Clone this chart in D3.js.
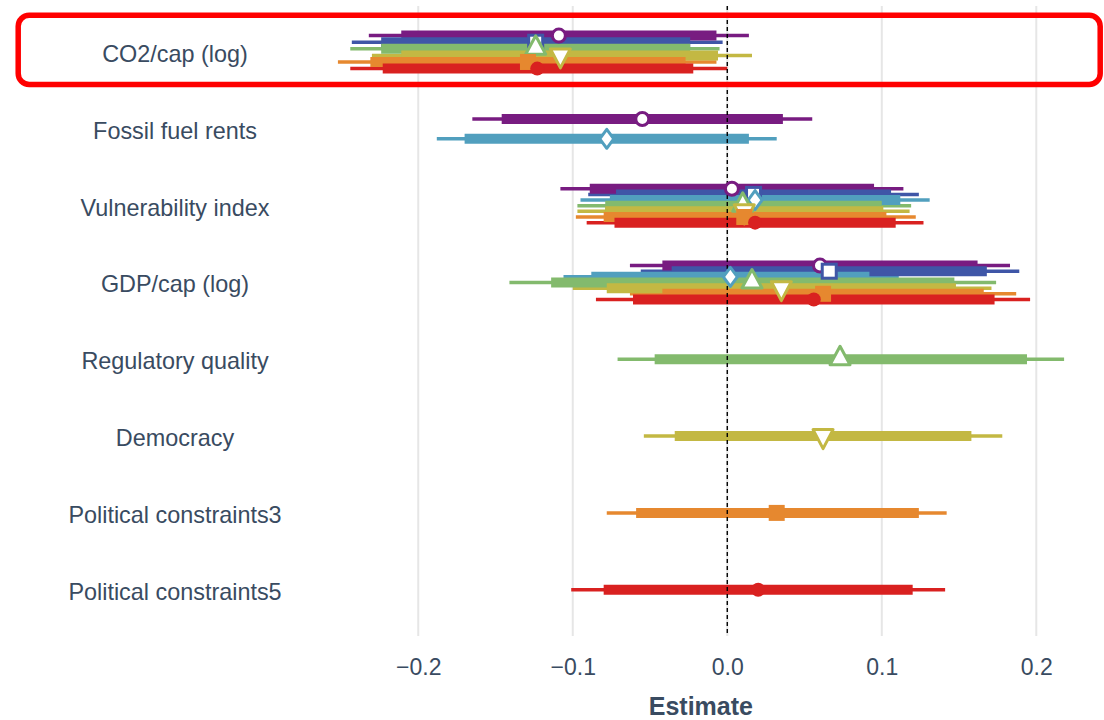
<!DOCTYPE html>
<html>
<head>
<meta charset="utf-8">
<script src="https://cdn.jsdelivr.net/npm/d3@7"></script>
<style>
  html, body { margin: 0; padding: 0; background: #ffffff; }
  svg { display: block; }
  text { font-family: "Liberation Sans", Arial, Helvetica, sans-serif; }
</style>
</head>
<body>
<svg id="chart" width="1104" height="720"></svg>
<script>
// ---------- data ----------
const variables = ["CO2/cap (log)", "Fossil fuel rents", "Vulnerability index", "GDP/cap (log)",
  "Regulatory quality", "Democracy", "Political constraints3", "Political constraints5"];
const models = ["Model 1", "Model 2", "Model 3", "Model 4", "Model 5", "Model 6", "Model 7"];

// rows = models, columns = variables (null = not in model)
const estimate = [
  [-0.109, -0.055, 0.003, 0.060, null, null, null, null],
  [-0.124, null, 0.017, 0.066, null, null, null, null],
  [null, -0.078, 0.018, 0.002, null, null, null, null],
  [-0.124, null, 0.010, 0.016, 0.073, null, null, null],
  [-0.108, null, 0.011, 0.035, null, 0.062, null, null],
  [-0.129, null, 0.011, 0.062, null, null, 0.032, null],
  [-0.123, null, 0.018, 0.056, null, null, null, 0.020]
];
const low95 = [
  [-0.232, -0.165, -0.108, -0.063, null, null, null, null],
  [-0.243, null, -0.090, -0.056, null, null, null, null],
  [null, -0.188, -0.095, -0.106, null, null, null, null],
  [-0.244, null, -0.097, -0.141, -0.071, null, null, null],
  [-0.230, null, -0.097, -0.100, null, -0.054, null, null],
  [-0.252, null, -0.098, -0.063, null, null, -0.078, null],
  [-0.244, null, -0.091, -0.085, null, null, null, -0.101]
];
const high95 = [
  [0.014, 0.055, 0.114, 0.183, null, null, null, null],
  [-0.003, null, 0.124, 0.189, null, null, null, null],
  [null, 0.032, 0.131, 0.111, null, null, null, null],
  [-0.005, null, 0.119, 0.174, 0.218, null, null, null],
  [0.016, null, 0.118, 0.171, null, 0.178, null, null],
  [-0.007, null, 0.122, 0.187, null, null, 0.142, null],
  [0.000, null, 0.127, 0.196, null, null, null, 0.141]
];
const low90 = [
  [-0.211, -0.146, -0.089, -0.042, null, null, null, null],
  [-0.224, null, -0.072, -0.036, null, null, null, null],
  [null, -0.170, -0.076, -0.088, null, null, null, null],
  [-0.224, null, -0.079, -0.114, -0.047, null, null, null],
  [-0.211, null, -0.079, -0.078, null, -0.034, null, null],
  [-0.231, null, -0.080, -0.042, null, null, -0.059, null],
  [-0.223, null, -0.073, -0.061, null, null, null, -0.080]
];
const high90 = [
  [-0.007, 0.036, 0.095, 0.162, null, null, null, null],
  [-0.024, null, 0.106, 0.168, null, null, null, null],
  [null, 0.014, 0.112, 0.092, null, null, null, null],
  [-0.024, null, 0.100, 0.147, 0.194, null, null, null],
  [-0.006, null, 0.101, 0.148, null, 0.158, null, null],
  [-0.027, null, 0.103, 0.166, null, null, 0.124, null],
  [-0.022, null, 0.109, 0.173, null, null, null, 0.120]
];
const xTicks = [-0.2, -0.1, 0.0, 0.1, 0.2];
const xTitle = "Estimate";

// ---------- styles ----------
const colors = ["#781c81", "#3f56a7", "#519fbe", "#83ba6d", "#c3b843", "#e6882f", "#d92120"];
const shapes = ["circleOpen", "squareOpen", "diamondOpen", "triUpOpen", "triDownOpen", "squareFilled", "circleFilled"];
const textColor = "#394b61";

// ---------- build records ----------
const records = [];
models.forEach((m, mi) => {
  variables.forEach((v, vi) => {
    if (estimate[mi][vi] === null) return;
    records.push({model: m, mi, variable: v, vi,
      est: estimate[mi][vi], lo95: low95[mi][vi], hi95: high95[mi][vi],
      lo90: low90[mi][vi], hi90: high90[mi][vi]});
  });
});
// dodge index per variable
variables.forEach(v => {
  const recs = records.filter(r => r.variable === v).sort((a, b) => a.mi - b.mi);
  recs.forEach((r, i) => { r.k = i; r.n = recs.length; });
});

// ---------- scales ----------
const svg = d3.select("#chart");
const panel = {left: 301.3, right: 1100.4, top: 6, bottom: 636};
const x = d3.scaleLinear().domain([-0.2757, 0.2415]).range([panel.left, panel.right]);
const y = d3.scaleBand().domain(variables).range([13.7, 628.1]).padding(0);
const dodgeW = y.bandwidth() * 0.515;
const yPos = r => y(r.variable) + y.bandwidth() / 2 + (r.k - (r.n - 1) / 2) * dodgeW / r.n;

// ---------- gridlines ----------
svg.append("g").selectAll("line").data(xTicks).join("line")
  .attr("x1", d => x(d)).attr("x2", d => x(d))
  .attr("y1", panel.top).attr("y2", panel.bottom)
  .attr("stroke", "#e6e6e6").attr("stroke-width", 2);

// ---------- intervals ----------
svg.append("g").selectAll("line").data(records).join("line")
  .attr("x1", d => x(d.lo95)).attr("x2", d => x(d.hi95))
  .attr("y1", yPos).attr("y2", yPos)
  .attr("stroke", d => colors[d.mi]).attr("stroke-width", 3.5);
svg.append("g").selectAll("line").data(records).join("line")
  .attr("x1", d => x(d.lo90)).attr("x2", d => x(d.hi90))
  .attr("y1", yPos).attr("y2", yPos)
  .attr("stroke", d => colors[d.mi]).attr("stroke-width", 10);

// ---------- zero line ----------
svg.append("line")
  .attr("x1", x(0)).attr("x2", x(0)).attr("y1", panel.top).attr("y2", panel.bottom)
  .attr("stroke", "#000").attr("stroke-width", 1.4).attr("stroke-dasharray", "4,3");

// ---------- points ----------
const shapePath = {
  diamondOpen: "M0,-9.5L7,0L0,9.5L-7,0Z",
  triUpOpen: "M0,-13L10,5.5L-10,5.5Z",
  triDownOpen: "M-10,-6.5L10,-6.5L0,12.5Z"
};
const pts = svg.append("g").selectAll("g").data(records).join("g")
  .attr("transform", d => `translate(${x(d.est)},${yPos(d)})`);
pts.each(function(d) {
  const g = d3.select(this);
  const c = colors[d.mi];
  const s = shapes[d.mi];
  if (s === "circleOpen") {
    g.append("circle").attr("r", 6.5).attr("fill", "#fff").attr("stroke", c).attr("stroke-width", 3);
  } else if (s === "squareOpen") {
    g.append("rect").attr("x", -7).attr("y", -7).attr("width", 14).attr("height", 14)
      .attr("fill", "#fff").attr("stroke", c).attr("stroke-width", 3);
  } else if (s === "squareFilled") {
    g.append("rect").attr("x", -8).attr("y", -8).attr("width", 16).attr("height", 16).attr("fill", c);
  } else if (s === "circleFilled") {
    g.append("circle").attr("r", 7).attr("fill", c);
  } else {
    g.append("path").attr("d", shapePath[s]).attr("fill", "#fff").attr("stroke", c)
      .attr("stroke-width", 3).attr("stroke-linejoin", "round");
  }
});

// ---------- axes ----------
const xAxis = svg.append("g").attr("transform", `translate(0,${panel.bottom})`)
  .call(d3.axisBottom(x).tickValues(xTicks).tickFormat(d3.format(".1f")).tickSize(0));
xAxis.select(".domain").remove();
xAxis.selectAll("text").attr("y", 0).attr("dy", 39)
  .attr("font-size", 23).attr("fill", textColor)
  .attr("font-family", "'Liberation Sans', Arial, sans-serif");

const yAxis = svg.append("g").attr("transform", "translate(175,0)")
  .call(d3.axisLeft(y).tickSize(0));
yAxis.select(".domain").remove();
yAxis.selectAll("text").attr("x", 0).attr("dy", 9.8).attr("text-anchor", "middle")
  .attr("font-size", 23.4).attr("fill", textColor)
  .attr("font-family", "'Liberation Sans', Arial, sans-serif");

svg.append("text").attr("x", (panel.left + panel.right) / 2).attr("y", 714.5)
  .attr("text-anchor", "middle").attr("font-size", 25).attr("font-weight", "bold")
  .attr("fill", textColor).text(xTitle);

// ---------- highlight box ----------
svg.append("rect").attr("x", 18.2).attr("y", 15.3).attr("width", 1082).attr("height", 69.2)
  .attr("rx", 11).attr("ry", 11).attr("fill", "none").attr("stroke", "#ff0000").attr("stroke-width", 5.5);
</script>
</body>
</html>
